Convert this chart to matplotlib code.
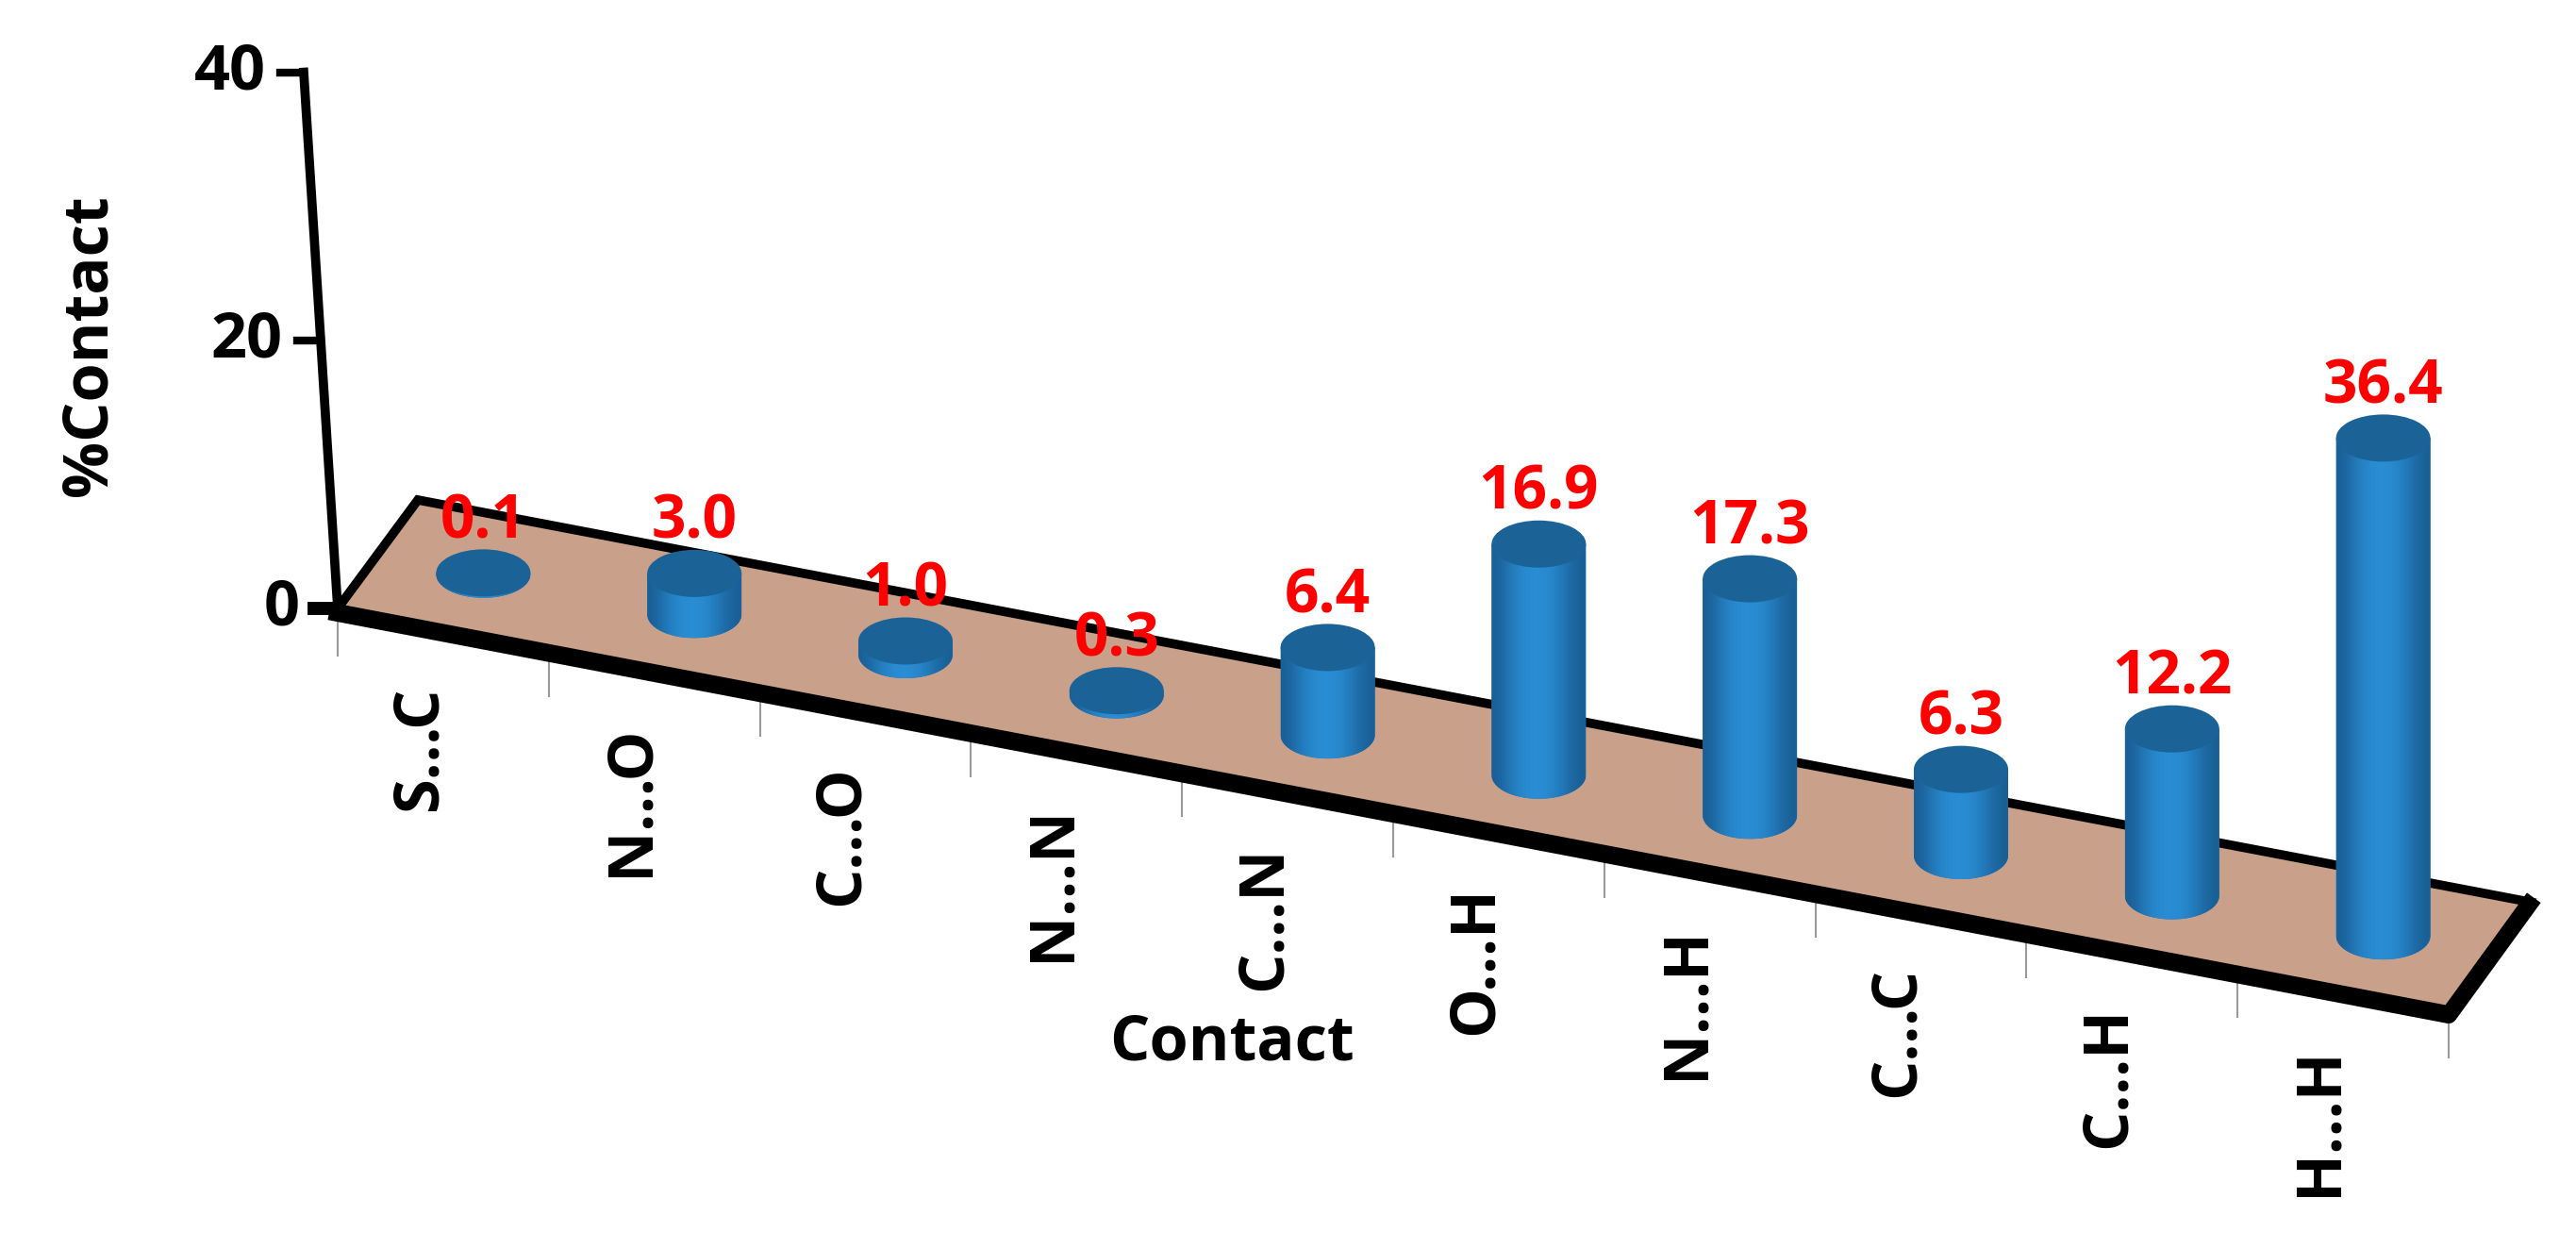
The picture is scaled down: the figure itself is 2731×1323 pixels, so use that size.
import matplotlib.pyplot as plt
import matplotlib.patches as mpatches
from matplotlib.colors import LinearSegmentedColormap
import numpy as np

contacts = ['S...C', 'N...O', 'C...O', 'N...N', 'C...N', 'O...H', 'N...H', 'C...C', 'C...H', 'H...H']
values = [0.1, 3.0, 1.0, 0.3, 6.4, 16.9, 17.3, 6.3, 12.2, 36.4]
y_ticks = [0, 20, 40]

W, H = 2731, 1323
fig = plt.figure(figsize=(W / 100, H / 100), dpi=100)
ax = fig.add_axes([0, 0, 1, 1])
ax.set_xlim(0, W)
ax.set_ylim(H, 0)
ax.axis('off')

# oblique projection of the 3d chart
origin = np.array([358.0, 645.0])     # front-left floor corner
front = np.array([2238.0, 426.0])     # along the category axis
depth = np.array([85.0, -115.0])      # into the chart
unit = 14.5                           # pixels per percent
n = len(contacts)

def proj(i, v, d=0.5):
    p = origin + front * (i / n) + depth * d
    return p[0], p[1] - v * unit

# floor
corners = [proj(0, 0, 0), proj(n, 0, 0), proj(n, 0, 1), proj(0, 0, 1)]
ax.add_patch(mpatches.Polygon(corners, closed=True, facecolor='#c9a18a', edgecolor='black', lw=7, zorder=1))
ax.plot([corners[0][0], corners[1][0], corners[2][0]],
        [corners[0][1] + 5, corners[1][1] + 5, corners[2][1] + 3], color='black', lw=13, zorder=2)

# vertical axis
x0, y0 = proj(0, 0, 0)
top = (x0 - 36, y0 - 40 * unit * 0.98)
ax.plot([x0, top[0]], [y0, top[1]], color='black', lw=7, zorder=2)
for t in y_ticks:
    f = t / 40
    tx = x0 + (top[0] - x0) * f
    ty = y0 + (top[1] - y0) * f
    ax.plot([tx - 25, tx], [ty, ty], color='black', lw=10 if t == 0 else 6, zorder=2)
    ax.text(tx - 40, ty, str(t), ha='right', va='center', fontsize=48, fontweight='bold', family='Open Sans')
ax.text(95, 366, '%Contact', rotation=90, ha='center', va='center', fontsize=48, fontweight='bold', family='Open Sans')

# category ticks and labels
for i in range(n + 1):
    x, y = proj(i, 0, 0)
    ax.plot([x, x], [y + 8, y + 50], color='#999999', lw=1.5, zorder=1)
for i, name in enumerate(contacts):
    x, y = proj(i + 0.5, 0, 0)
    ax.text(x - 25, y + 60, name, rotation=90, ha='center', va='top', fontsize=48, fontweight='bold', family='Open Sans')
ax.text(1306, 1106, 'Contact', ha='center', va='center', fontsize=48, fontweight='bold', family='Open Sans')

# cylinders
rw, rh = 50, 25
grad = np.array([[0.0, 0.35, 0.55, 0.6, 0.5, 0.25, 0.0]])
cmap = LinearSegmentedColormap.from_list('cyl', ['#1a5f96', '#2a8fd6'])
for i, v in enumerate(values):
    bx, by = proj(i + 0.5, 0)
    tx, ty = proj(i + 0.5, v)
    theta = np.linspace(0, np.pi, 40)
    body = [(bx - rw, ty)] + [(bx - rw * np.cos(t), by + rh * np.sin(t)) for t in theta] + [(bx + rw, ty)]
    poly = mpatches.Polygon(body, closed=True, facecolor='#1f78be', edgecolor='none', zorder=3)
    ax.add_patch(poly)
    im = ax.imshow(grad, cmap=cmap, vmin=0, vmax=0.6, extent=(bx - rw, bx + rw, by + rh, ty),
                   aspect='auto', zorder=3, interpolation='bicubic')
    im.set_clip_path(poly)
    ax.add_patch(mpatches.Ellipse((tx, ty), 2 * rw, 2 * rh, facecolor='#1b6397', edgecolor='none', zorder=4))
    ax.text(tx, ty - rh + 4, f'{v:.1f}', ha='center', va='bottom', color='red', fontsize=46, fontweight='bold',
            family='Open Sans', zorder=5)

ax.set_xlim(0, W)
ax.set_ylim(H, 0)
fig.savefig('out.png', dpi=100)
